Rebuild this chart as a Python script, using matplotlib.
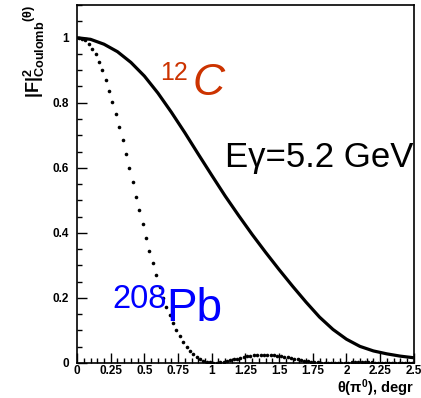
import numpy as np
import matplotlib.pyplot as plt
from matplotlib.ticker import MultipleLocator

plt.rcParams['font.family'] = ['Liberation Sans', 'DejaVu Sans']
plt.rcParams['mathtext.fontset'] = 'custom'
plt.rcParams['mathtext.rm'] = 'Liberation Sans:bold'
plt.rcParams['mathtext.bf'] = 'Liberation Sans:bold'
plt.rcParams['mathtext.it'] = 'Liberation Sans:bold'

# 12C Coulomb form factor squared (solid line)
theta_c = [0.0, 0.1, 0.2, 0.3, 0.4, 0.5, 0.6, 0.7, 0.8, 0.9, 1.0, 1.1, 1.2,
           1.3, 1.4, 1.5, 1.6, 1.7, 1.8, 1.9, 2.0, 2.1, 2.2, 2.3, 2.4, 2.5]
ff_c = [1.000, 0.995, 0.980, 0.957, 0.924, 0.882, 0.830, 0.771, 0.708, 0.642,
        0.577, 0.513, 0.453, 0.395, 0.340, 0.287, 0.236, 0.187, 0.141, 0.103,
        0.073, 0.051, 0.037, 0.028, 0.021, 0.016]

# 208Pb (dotted, one point per 0.025 bin)
theta_pb = np.arange(100) * 0.025 + 0.0125
ff_pb = [0.999, 0.997, 0.992, 0.981, 0.966, 0.949, 0.926, 0.900, 0.870, 0.837,
         0.802, 0.764, 0.725, 0.684, 0.641, 0.598, 0.555, 0.511, 0.469, 0.427,
         0.385, 0.345, 0.307, 0.270, 0.233, 0.199, 0.172, 0.147, 0.124, 0.102,
         0.082, 0.065, 0.050, 0.038, 0.027, 0.018, 0.011, 0.007, 0.004, 0.002,
         0.0008, 0.001, 0.002, 0.004, 0.006, 0.008, 0.011, 0.013, 0.016, 0.018,
         0.020, 0.022, 0.023, 0.024, 0.025, 0.025, 0.025, 0.024, 0.023, 0.022,
         0.021, 0.019, 0.017, 0.015, 0.013, 0.011, 0.009, 0.007, 0.005, 0.004,
         0.003, 0.002, 0.001, 0.0006, 0.0004, 0.0004, 0.0006, 0.0008, 0.001, 0.0012,
         0.0014, 0.0015, 0.0016, 0.0017, 0.0017, 0.0017, 0.0016, 0.0015, 0.0014, 0.0013,
         0.0012, 0.0011, 0.001, 0.0009, 0.0008, 0.0007, 0.0006, 0.0006, 0.0005, 0.0005]

xticks = [0, 0.25, 0.5, 0.75, 1, 1.25, 1.5, 1.75, 2, 2.25, 2.5]
xticklabels = ['0', '0.25', '0.5', '0.75', '1', '1.25', '1.5', '1.75', '2', '2.25', '2.5']
yticks = [0, 0.2, 0.4, 0.6, 0.8, 1]
yticklabels = ['0', '0.2', '0.4', '0.6', '0.8', '1']

fig = plt.figure(figsize=(4.21, 3.98), dpi=100)
ax = fig.add_axes([0.183, 0.088, 0.800, 0.899])

ax.plot(theta_c, ff_c, color='black', lw=2.3, solid_capstyle='butt')
ax.plot(theta_pb, ff_pb, ls='none', marker='o', ms=2.6, color='black', mew=0)

ax.set_xlim(0, 2.5)
ax.set_ylim(0, 1.1)
ax.set_xticks(xticks)
ax.set_xticklabels(xticklabels)
ax.set_yticks(yticks)
ax.set_yticklabels(yticklabels)
ax.xaxis.set_minor_locator(MultipleLocator(0.05))
ax.yaxis.set_minor_locator(MultipleLocator(0.05))
ax.tick_params(which='both', direction='in', top=False, right=False, width=1)
ax.tick_params(which='major', length=7, labelsize=8.5)
ax.tick_params(axis='x', which='major', pad=1.8)
ax.tick_params(axis='y', which='major', pad=6)
ax.tick_params(which='minor', length=3.5)
for lab in ax.get_xticklabels() + ax.get_yticklabels():
    lab.set_fontweight('bold')
for s in ax.spines.values():
    s.set_linewidth(1.2)

fig.text(0.083, 0.987, r'$|F|^2_{Coulomb}{}^{(\theta)}$', rotation=90,
         ha='center', va='top', fontsize=13)
fig.text(0.983, 0.013, r'$\theta(\pi^0)$, degr', ha='right', va='baseline',
         fontsize=10.5, fontweight='bold')

ax.text(0.615, 0.871, '12', color='#cc3300', fontsize=18, va='baseline')
ax.text(0.86, 0.825, 'C', color='#cc3300', fontsize=32, style='italic', va='baseline')
ax.text(1.10, 0.603, 'E\u03b3=5.2 GeV', color='black', fontsize=25, va='baseline')
ax.text(0.26, 0.169, '208', color='#0000ff', fontsize=23.5, va='baseline')
ax.text(0.665, 0.13, 'Pb', color='#0000ff', fontsize=33, va='baseline')

fig.savefig('out.png', dpi=100)
